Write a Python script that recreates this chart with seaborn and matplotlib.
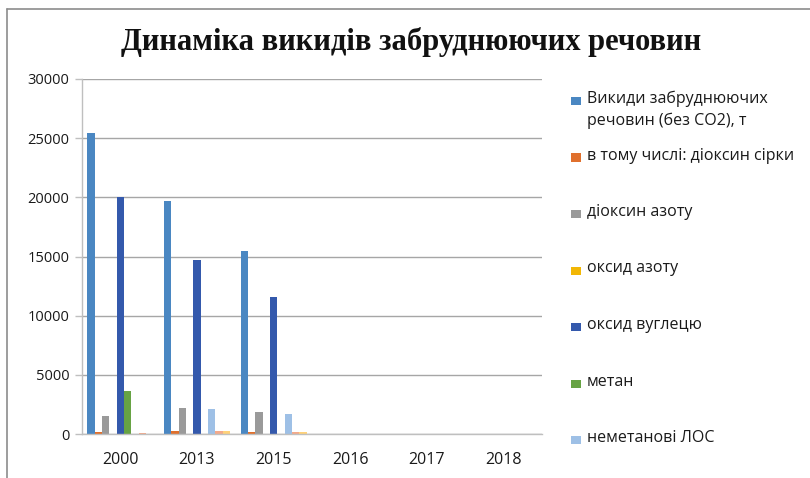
import matplotlib
matplotlib.use("Agg")
import matplotlib.pyplot as plt
from matplotlib.patches import Rectangle
from matplotlib.lines import Line2D
import seaborn as sns
import pandas as pd

# Years on the category axis
years = ["2000", "2013", "2015", "2016", "2017", "2018"]

# Emissions by substance, tonnes
total_no_co2   = [25400, 19700, 15500, 0, 0, 0]
sulfur_dioxide = [150, 230, 170, 0, 0, 0]
nitrogen_dioxide = [1550, 2200, 1850, 0, 0, 0]
nitrous_oxide  = [0, 30, 30, 0, 0, 0]
carbon_monoxide = [20000, 14700, 11600, 0, 0, 0]
methane        = [3650, 20, 20, 0, 0, 0]
nmvoc          = [0, 2100, 1650, 0, 0, 0]
ammonia        = [100, 250, 170, 0, 0, 0]
particulates   = [0, 250, 150, 0, 0, 0]

series_names = [
    "Викиди забруднюючих\nречовин (без СО2), т",
    "в тому числі: діоксин сірки",
    "діоксин азоту",
    "оксид азоту",
    "оксид вуглецю",
    "метан",
    "неметанові ЛОС",
    "аміак",
    "тверді частинки",
]
series_values = [total_no_co2, sulfur_dioxide, nitrogen_dioxide, nitrous_oxide,
                 carbon_monoxide, methane, nmvoc, ammonia, particulates]
colors = ["#4A87C2", "#E0702D", "#9A9A9A", "#F2B705", "#3459AC",
          "#67A344", "#9EC0E6", "#F4A98A", "#FFD27A"]

rows = []
for name, vals in zip(series_names, series_values):
    for y, v in zip(years, vals):
        rows.append({"year": y, "series": name, "value": v})
df = pd.DataFrame(rows)

sns.set_theme(style="white")
plt.rcParams["font.family"] = ["Open Sans", "DejaVu Sans"]

W, H = 810, 478
fig = plt.figure(figsize=(W / 100, H / 100), dpi=100)
ax = fig.add_axes([82 / W, (H - 434) / H, 460 / W, 355 / H])

sns.barplot(data=df, x="year", y="value", hue="series", hue_order=series_names,
            palette=colors, order=years, width=0.86, gap=0, legend=False,
            saturation=1, errorbar=None, linewidth=0, edgecolor="none", ax=ax)

ax.set_ylim(0, 30000)
ax.set_xlim(-0.5, len(years) - 0.5)
ax.set_yticks(range(0, 30001, 5000))
ax.yaxis.grid(True, color="#A6A6A6", linewidth=1.0)
ax.set_axisbelow(True)
ax.set_xlabel("")
ax.set_ylabel("")

for s in ["top", "right"]:
    ax.spines[s].set_visible(False)
for s in ["left", "bottom"]:
    ax.spines[s].set_color("#BFBFBF")
    ax.spines[s].set_linewidth(1.0)

ax.set_xticks(range(len(years)))
ax.set_xticklabels(years)
ax.set_xticks([i - 0.5 for i in range(len(years) + 1)], minor=True)
ax.tick_params(axis="x", which="major", length=0, pad=13, labelsize=11.5, labelcolor="#1A1A1A")
ax.tick_params(axis="x", which="minor", length=5, color="#BFBFBF", width=1)
ax.tick_params(axis="y", which="major", length=5, color="#BFBFBF", width=1,
               left=True, pad=4, labelsize=10.5, labelcolor="#1A1A1A")

fig.text(411 / W, 1 - 42 / H, "Динаміка викидів забруднюючих речовин",
         ha="center", va="center", fontsize=22, fontweight="bold",
         family=["Liberation Serif", "DejaVu Serif"], color="#111111")

# Chart frame (left and top edges)
fig.add_artist(Line2D([7 / W, 7 / W], [0, 1 - 9 / H], transform=fig.transFigure,
                      color="#8C8C8C", linewidth=1.2))
fig.add_artist(Line2D([7 / W, 1], [1 - 9 / H, 1 - 9 / H], transform=fig.transFigure,
                      color="#8C8C8C", linewidth=1.2))

# Legend: evenly spaced entries, markers aligned to the first line of text
y0, step = 101, 56.5
for i, (name, col) in enumerate(zip(series_names[:7], colors[:7])):
    yc = y0 + i * step
    fig.add_artist(Rectangle((571 / W, 1 - (yc + 4) / H), 10 / W, 8 / H,
                             transform=fig.transFigure, facecolor=col, edgecolor="none"))
    fig.text(587 / W, 1 - (yc - 10) / H, name, ha="left", va="top",
             fontsize=11.5, color="#1A1A1A", linespacing=1.45)

fig.savefig("out.png", dpi=100)
